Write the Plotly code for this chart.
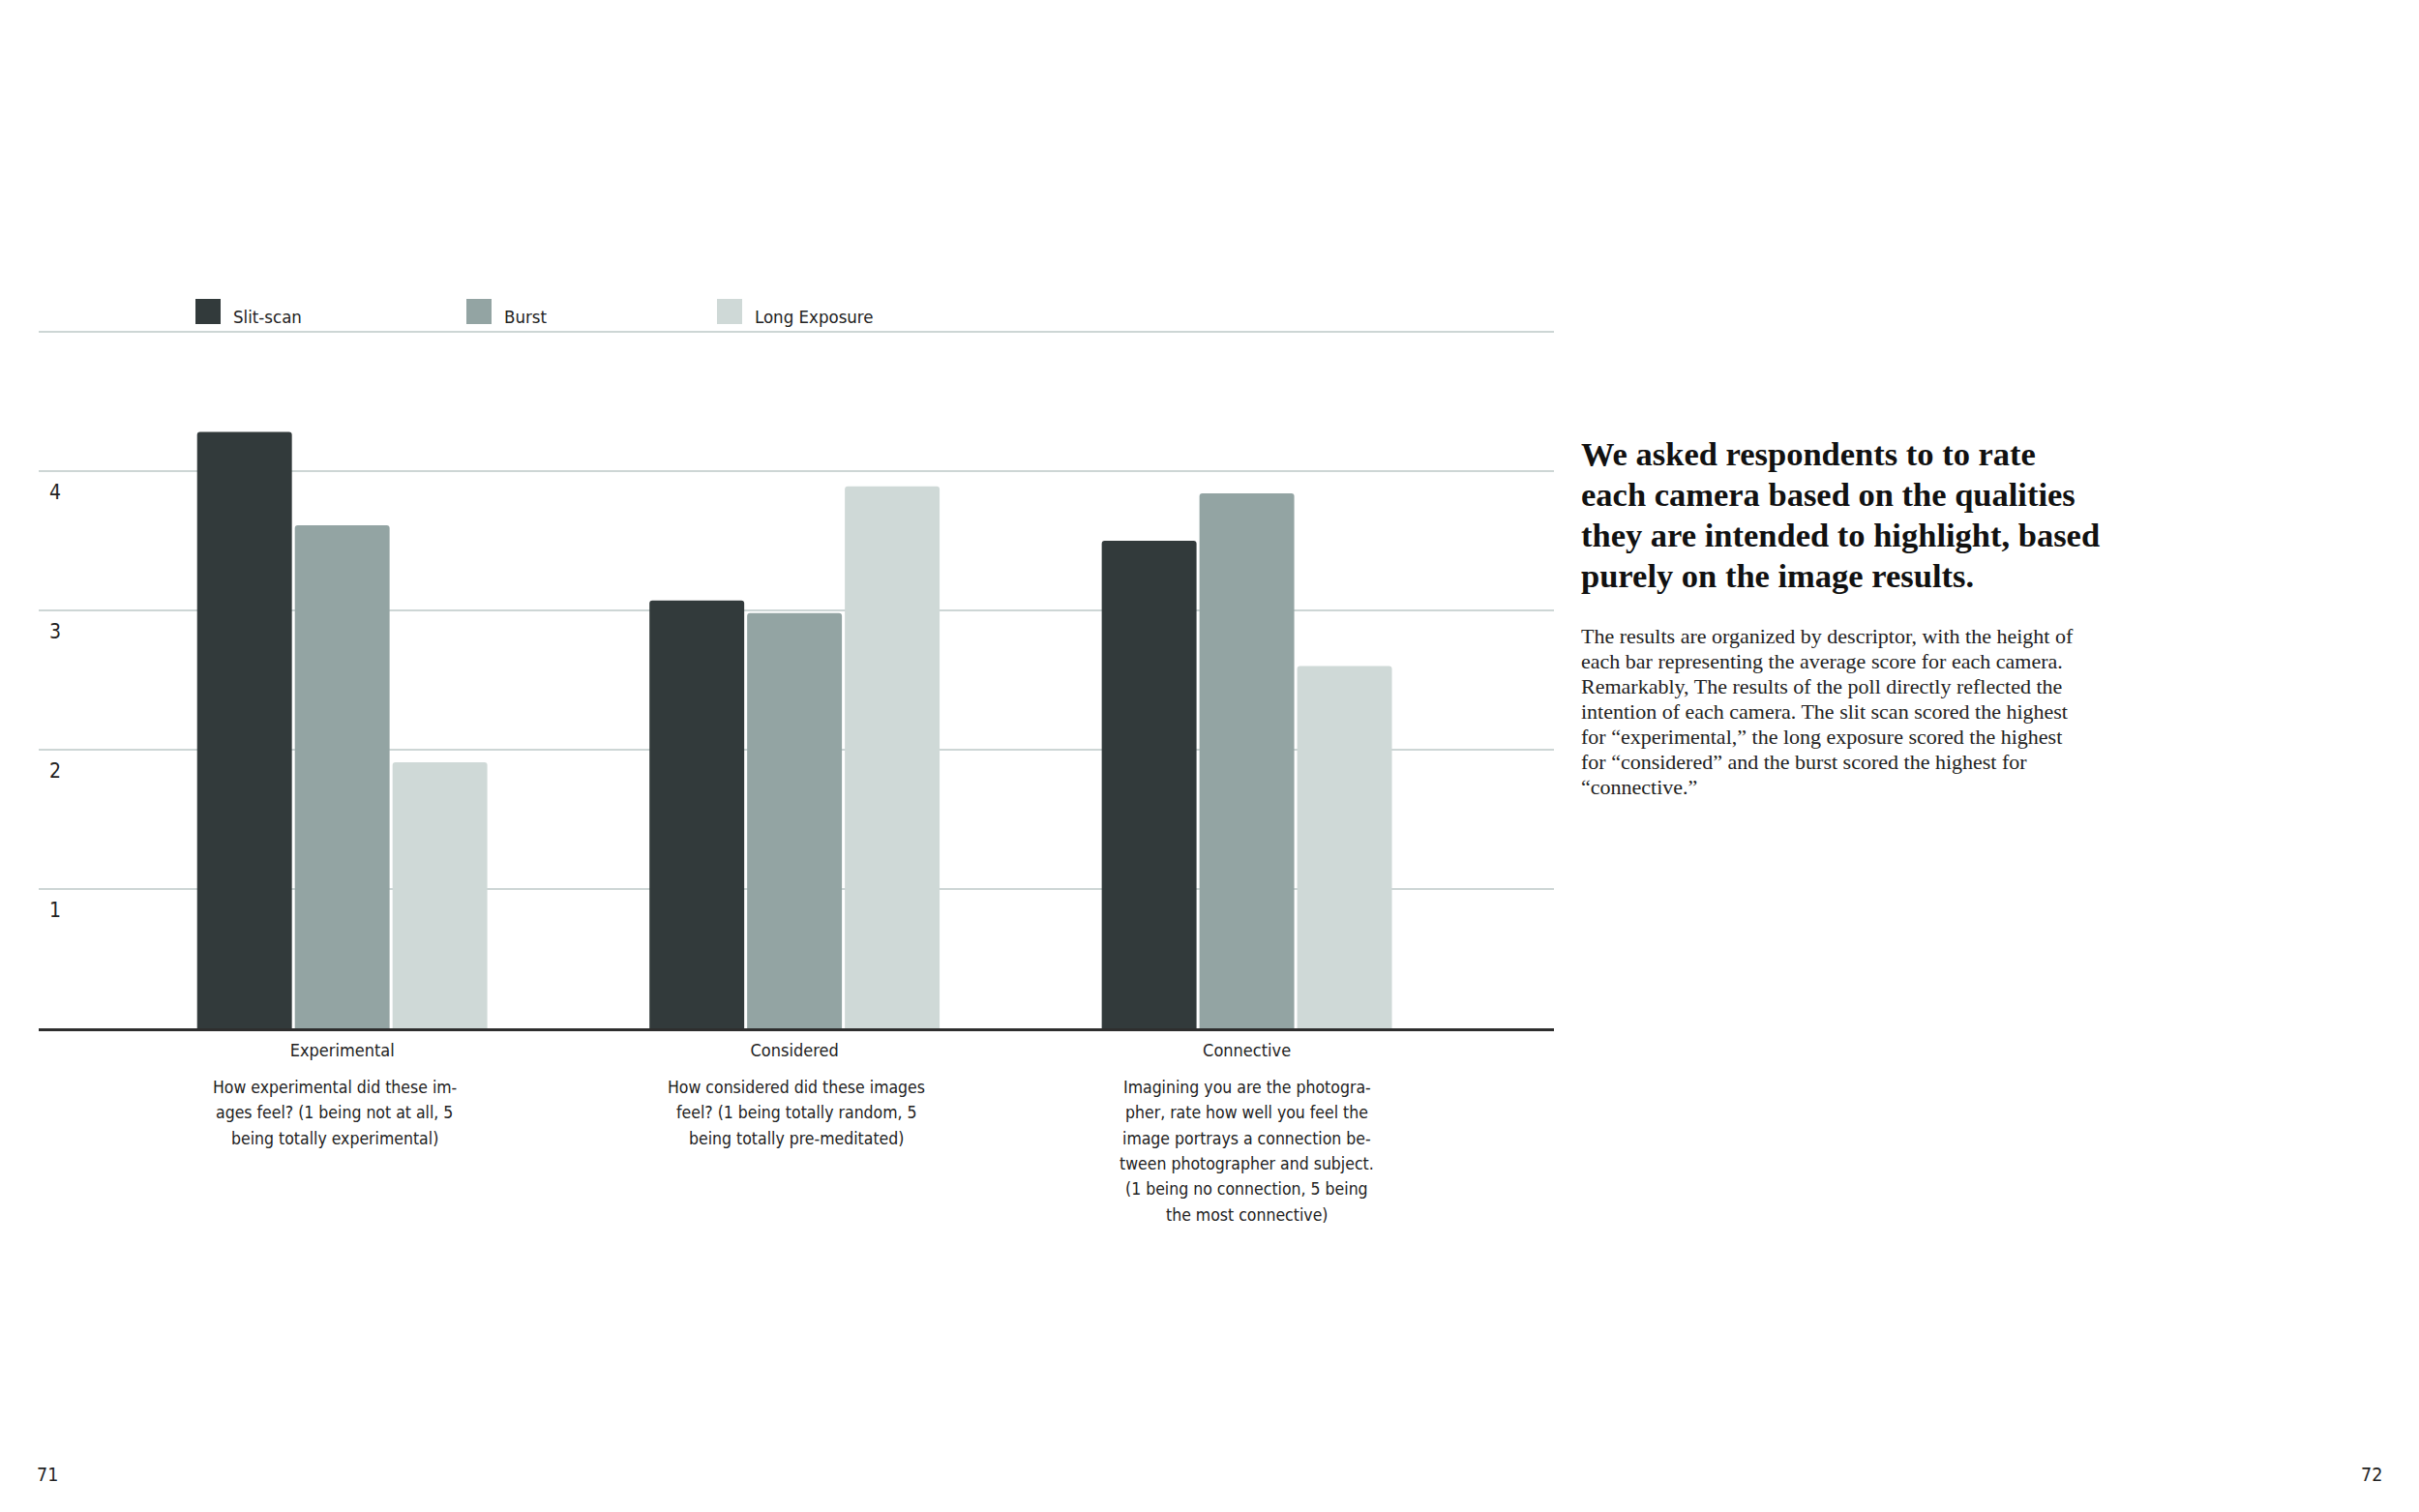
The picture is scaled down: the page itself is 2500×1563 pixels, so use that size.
import plotly.graph_objects as go

# ---------------- data ----------------
categories = ["Experimental", "Considered", "Connective"]
descriptions = [
    ["How experimental did these im-", "ages feel? (1 being not at all, 5", "being totally experimental)"],
    ["How considered did these images", "feel? (1 being totally random, 5", "being totally pre-meditated)"],
    ["Imagining you are the photogra-", "pher, rate how well you feel the", "image portrays a connection be-",
     "tween photographer and subject.", "(1 being no connection, 5 being", "the most connective)"],
]
series_names = ["Slit-scan", "Burst", "Long Exposure"]
slit_scan = [4.28, 3.07, 3.50]
burst = [3.61, 2.98, 3.84]
long_exposure = [1.91, 3.89, 2.60]
series_values = [slit_scan, burst, long_exposure]
y_tickvals = [1, 2, 3, 4, 5]
y_ticktext = ["1", "2", "3", "4", ""]

heading_lines = [
    "We asked respondents to to rate",
    "each camera based on the qualities",
    "they are intended to highlight, based",
    "purely on the image results.",
]
body_lines = [
    "The results are organized by descriptor, with the height of",
    "each bar representing the average score for each camera.",
    "Remarkably, The results of the poll directly reflected the",
    "intention of each camera. The slit scan scored the highest",
    "for \u201cexperimental,\u201d the long exposure scored the highest",
    "for \u201cconsidered\u201d and the burst scored the highest for",
    "\u201cconnective.\u201d",
]
page_numbers = ["71", "72"]

# ---------------- style / layout ----------------
colors = ["#323a3b", "#93a4a3", "#cfd9d7"]
grid_color = "#cdd6d5"
text_color = "#222222"
SANS = "DejaVu Sans Condensed, DejaVu Sans, sans-serif"
SERIF = "Liberation Serif, serif"
desc_xshift = [-8, 2, 0]  # small typographic nudges of the description blocks (px)

OFF = 8  # page body margin
W, H = 2500 - 2 * OFF, 1563 - 2 * OFF
PLOT_X0, PLOT_X1 = 40, 1606     # page pixels
PLOT_Y0, PLOT_Y1 = 340, 1063
L, T = PLOT_X0 - OFF, PLOT_Y0 - OFF
PW, PH = PLOT_X1 - PLOT_X0, PLOT_Y1 - PLOT_Y0
R, B = W - L - PW, H - T - PH


def px(xp):
    return (xp - PLOT_X0) / PW


def py(yp):
    return (PLOT_Y1 - yp) / PH


x_pos = list(range(len(categories)))

fig = go.Figure()
for name, vals, col in zip(series_names, series_values, colors):
    fig.add_trace(go.Bar(
        x=x_pos, y=vals, name=name,
        marker=dict(color=col, line=dict(width=0), cornerradius=3),
        showlegend=False,
    ))

annotations = []
shapes = []


def txt(x, y, s, font, xanchor="left", xref="paper", xshift=0):
    annotations.append(dict(xref=xref, yref="paper", x=x, y=y, text=s, showarrow=False,
                            xanchor=xanchor, yanchor="middle", font=font, xshift=xshift))


# legend (manual)
legend_x = [202, 482, 741]
for xs, name, col in zip(legend_x, series_names, colors):
    shapes.append(dict(type="rect", xref="paper", yref="paper",
                       x0=px(xs), x1=px(xs + 26), y0=py(335), y1=py(309),
                       fillcolor=col, line=dict(width=0)))
    txt(px(xs + 37), py(327), name, dict(family=SANS, size=18.5, color=text_color))

# category descriptions
desc_font = dict(family=SANS, size=17.5, color=text_color)
for i, lines in enumerate(descriptions):
    for j, line in enumerate(lines):
        txt(x_pos[i], py(1124 + 26.3 * j), line, desc_font, xanchor="center", xref="x",
            xshift=desc_xshift[i])

# right-hand text
head_font = dict(family=SERIF, size=34.5, color="#111111", weight="bold")
for j, line in enumerate(heading_lines):
    txt(px(1632), py(469 + 42 * j), line, head_font)
body_font = dict(family=SERIF, size=22, color="#222222")
for j, line in enumerate(body_lines):
    txt(px(1632), py(657 + 26.15 * j), line, body_font)

# page numbers
pn_font = dict(family=SANS, size=19.5, color=text_color)
txt(px(49), py(1524), page_numbers[0], pn_font, xanchor="center")
txt(px(2451), py(1524), page_numbers[1], pn_font, xanchor="center")

fig.update_layout(
    width=W, height=H,
    margin=dict(l=L, r=R, t=T, b=B, pad=0),
    paper_bgcolor="white", plot_bgcolor="white",
    barmode="group", bargap=0.352, bargroupgap=0.03,
    annotations=annotations, shapes=shapes,
    xaxis=dict(
        range=[-0.671, 2.679], tickvals=x_pos, ticktext=categories,
        showgrid=False, zeroline=False, showline=True, linecolor="#2e2e2e", linewidth=2.5,
        ticks="", ticklabelstandoff=5,
        tickfont=dict(family=SANS, size=18, color=text_color),
    ),
    yaxis=dict(
        range=[0, 5.02], tickvals=y_tickvals, ticktext=y_ticktext,
        showgrid=True, gridcolor=grid_color, gridwidth=2,
        zeroline=False, showline=False, ticks="",
        ticklabelposition="inside bottom", ticklabelstandoff=8, ticklabelshift=7,
        tickfont=dict(family=SANS, size=21, color=text_color),
    ),
)

fig.write_html("out.html")
